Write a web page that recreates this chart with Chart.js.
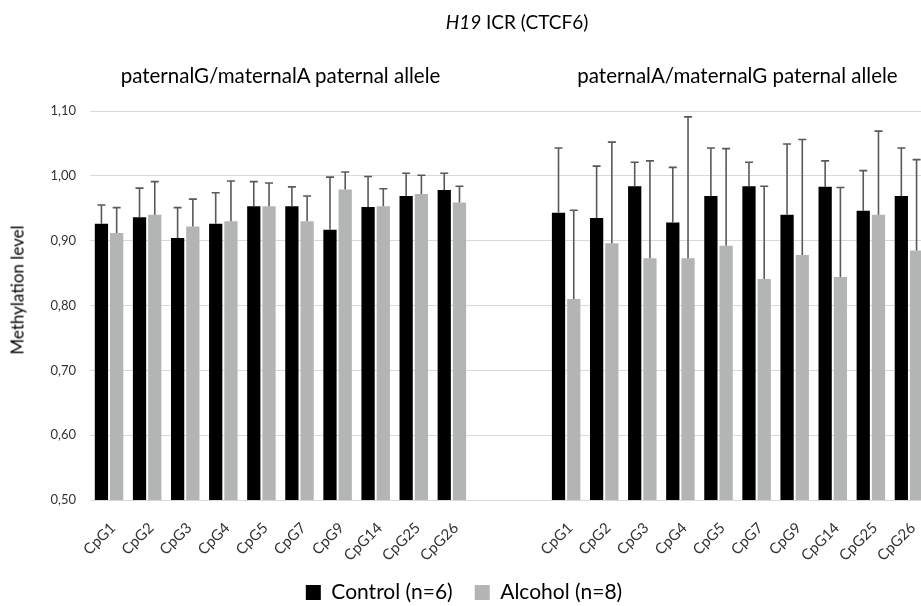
<!DOCTYPE html>
<html>
<head>
<meta charset="utf-8">
<script src="https://cdn.jsdelivr.net/npm/chart.js@4"></script>
<style>
  body { margin: 0; overflow: hidden; background: #fff; font-family: Lato, sans-serif; color: #000; }
  #wrap { position: relative; width: 921px; height: 606px; overflow: hidden; }
  canvas { position: absolute; left: 0; top: 0; }
  .txt { position: absolute; white-space: nowrap; }
  #title { left: 0; top: 10px; width: 1034px; text-align: center; font-size: 19px; }
  #subLeft { left: 90px; top: 63px; width: 381px; text-align: center; font-size: 20.5px; }
  #subRight { left: 547px; top: 63px; width: 381px; text-align: center; font-size: 20.5px; }
  #yTitle { left: 17px; top: 290px; font-size: 17px; font-weight: normal; transform: translate(-50%, -50%) rotate(-90deg); }
</style>
</head>
<body>
<div id="wrap">
  <canvas id="myChart" width="950" height="613"></canvas>
  <div class="txt" id="title"><i>H19</i> ICR (CTCF6)</div>
  <div class="txt" id="subLeft">paternalG/maternalA paternal allele</div>
  <div class="txt" id="subRight">paternalA/maternalG paternal allele</div>
  <div class="txt" id="yTitle">Methylation level</div>
</div>
<script>
// CpG sites, same for both groups
const cpgSites = ["CpG1", "CpG2", "CpG3", "CpG4", "CpG5", "CpG7", "CpG9", "CpG14", "CpG25", "CpG26"];

// paternalG/maternalA group
const leftControl = [0.926, 0.936, 0.904, 0.926, 0.953, 0.953, 0.917, 0.952, 0.969, 0.978];
const leftControlSd = [0.029, 0.045, 0.047, 0.048, 0.038, 0.030, 0.081, 0.047, 0.035, 0.026];
const leftAlcohol = [0.912, 0.940, 0.922, 0.930, 0.953, 0.930, 0.979, 0.953, 0.972, 0.959];
const leftAlcoholSd = [0.039, 0.051, 0.042, 0.062, 0.036, 0.039, 0.027, 0.027, 0.029, 0.025];

// paternalA/maternalG group
const rightControl = [0.943, 0.935, 0.984, 0.928, 0.969, 0.984, 0.940, 0.983, 0.946, 0.969];
const rightControlSd = [0.100, 0.080, 0.037, 0.085, 0.074, 0.037, 0.109, 0.040, 0.062, 0.074];
const rightAlcohol = [0.810, 0.896, 0.873, 0.873, 0.892, 0.841, 0.878, 0.844, 0.940, 0.885];
const rightAlcoholSd = [0.137, 0.156, 0.150, 0.218, 0.150, 0.143, 0.178, 0.138, 0.129, 0.140];

const yTicks = [0.5, 0.6, 0.7, 0.8, 0.9, 1.0, 1.1];

// two empty slots between the groups
const gap = [null, null];
const labels = [...cpgSites, "", "", ...cpgSites];
const controlData = [...leftControl, ...gap, ...rightControl];
const controlSd = [...leftControlSd, ...gap, ...rightControlSd];
const alcoholData = [...leftAlcohol, ...gap, ...rightAlcohol];
const alcoholSd = [...leftAlcoholSd, ...gap, ...rightAlcoholSd];

// draws the upper error bar with a cap on each bar
const errorBars = {
    id: "errorBars",
    afterDatasetsDraw(chart) {
        const ctx = chart.ctx;
        const yScale = chart.scales.y;
        ctx.save();
        ctx.strokeStyle = "#595959";
        ctx.lineWidth = 1.6;
        chart.data.datasets.forEach((ds, i) => {
            const meta = chart.getDatasetMeta(i);
            meta.data.forEach((bar, j) => {
                const v = ds.data[j];
                const sd = ds.sd[j];
                if (v == null || sd == null) return;
                const yTop = yScale.getPixelForValue(v + sd);
                ctx.beginPath();
                ctx.moveTo(bar.x, bar.y);
                ctx.lineTo(bar.x, yTop);
                ctx.moveTo(bar.x - 4, yTop);
                ctx.lineTo(bar.x + 4, yTop);
                ctx.stroke();
            });
        });
        ctx.restore();
    }
};

const ctx = document.getElementById("myChart").getContext("2d");
new Chart(ctx, {
    type: "bar",
    data: {
        labels: labels,
        datasets: [
            {
                label: "Control (n=6)",
                data: controlData,
                sd: controlSd,
                backgroundColor: "#000000",
                categoryPercentage: 0.8,
                barPercentage: 0.87,
            },
            {
                label: "Alcohol (n=8)",
                data: alcoholData,
                sd: alcoholSd,
                backgroundColor: "#b3b5b5",
                categoryPercentage: 0.8,
                barPercentage: 0.87,
            },
        ],
    },
    options: {
        responsive: false,
        animation: false,
        layout: { padding: { left: 0, right: 22, top: 111, bottom: 0 } },
        plugins: {
            legend: {
                position: "bottom",
                labels: {
                    color: "#000",
                    font: { family: "Lato", size: 21 },
                    boxWidth: 15,
                    boxHeight: 15,
                    padding: 22,
                },
            },
            tooltip: { enabled: false },
        },
        scales: {
            x: {
                grid: { display: false },
                border: { display: true, color: "#d9d9d9" },
                ticks: {
                    color: "#333",
                    font: { family: "Lato", size: 15 },
                    maxRotation: 45,
                    minRotation: 45,
                    autoSkip: false,
                    padding: 11,
                    labelOffset: 4,
                },
                afterFit(scale) { scale.height = 60; },
            },
            y: {
                min: 0.5,
                max: 1.1,
                afterBuildTicks(scale) { scale.ticks = yTicks.map(v => ({ value: v })); },
                grid: { color: "#d9d9d9", drawTicks: false },
                border: { display: false },
                ticks: {
                    color: "#333",
                    font: { family: "Lato", size: 13 },
                    padding: 14,
                    callback: (v) => v.toFixed(2).replace(".", ","),
                },
                afterFit(scale) { scale.width = 90; },
            },
        },
    },
    plugins: [errorBars],
});
</script>
</body>
</html>
